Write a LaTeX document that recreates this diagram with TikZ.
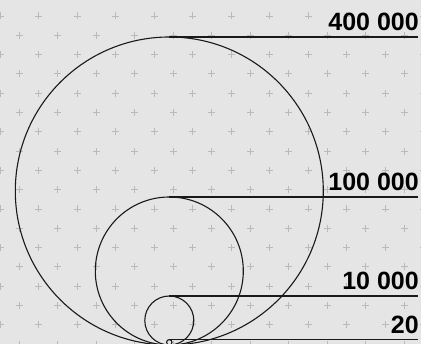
\documentclass[tikz,border=0pt]{standalone}
\usepackage{fontspec}
\setmainfont{Liberation Sans}
\begin{document}
\begin{tikzpicture}[x=1pt,y=1pt,
  ring/.style={draw=black!90,line width=1.1pt},
  leader/.style={draw=black!90,line width=1.1pt},
  lbl/.style={anchor=base east,inner sep=0pt,font=\fontsize{25}{26}\selectfont\bfseries,text=black},
  crossmark/.style={draw=black!27,line width=0.9pt}]
\fill[black!10] (0,0) rectangle (421,344);
\useasboundingbox (0,0) rectangle (421,344);
% background cross pattern
\foreach \n in {-1,...,18}{
  \pgfmathsetmacro{\yy}{344-16-19.3*\n}
  \pgfmathsetmacro{\off}{mod(\n+20,2)*19.25}
  \foreach \k in {0,...,11}{
    \pgfmathsetmacro{\xx}{\off+38.5*\k}
    \draw[crossmark] (\xx-3.5,\yy) -- (\xx+3.5,\yy) (\xx,\yy-3.5) -- (\xx,\yy+3.5);
  }
}
% circles tangent at the bottom
\coordinate (T) at (169.3,-1);
\draw[ring] (169.3,153) circle[radius=154];
\draw[ring] (169.3,73) circle[radius=74];
\draw[ring] (169.3,23.5) circle[radius=24.5];
\draw[ring] (169.3,1.7) circle[radius=2.7];
% tops and leader ends
\coordinate (t1) at (169.3,307);   \coordinate (e1) at (418,307);
\coordinate (t2) at (169.3,147);   \coordinate (e2) at (418,147);
\coordinate (t3) at (169.3,48);    \coordinate (e3) at (418,48);
\coordinate (t4) at (169.3,4.4);   \coordinate (e4) at (418,4.4);
\draw[leader] (t1) -- (e1);
\draw[leader] (t2) -- (e2);
\draw[leader] (t3) -- (e3);
\draw[leader] (t4) -- (e4);
\node[lbl] (l1) at (419,313.5) {400 000};
\node[lbl] (l2) at (419,153.5) {100 000};
\node[lbl] (l3) at (419,54.5) {10 000};
\node[lbl] (l4) at (419,10) {20};
\end{tikzpicture}
\end{document}
